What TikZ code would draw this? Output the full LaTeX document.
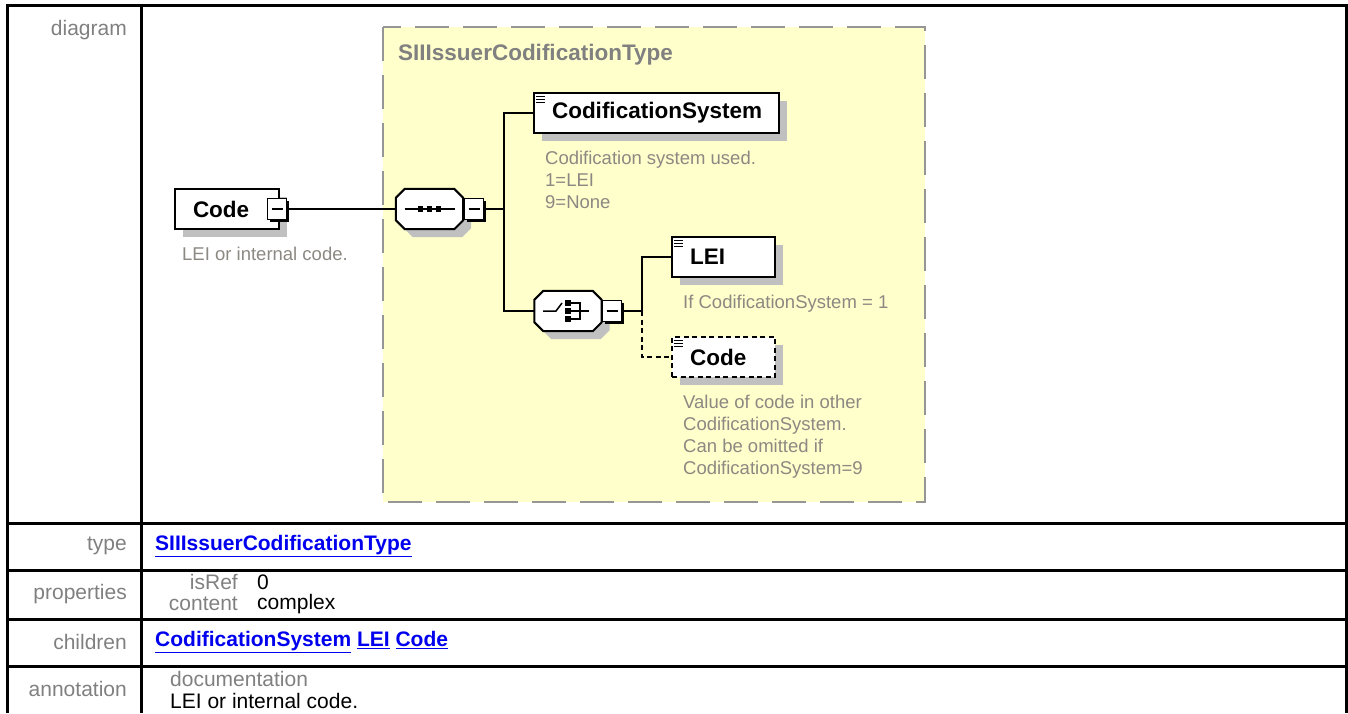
\documentclass[tikz,border=0pt]{standalone}
\usepackage{fontspec}
\setmainfont{Liberation Sans}
\usetikzlibrary{shadows}
\definecolor{labgray}{RGB}{128,128,128}
\definecolor{docgray}{RGB}{140,136,130}
\definecolor{boxyellow}{RGB}{255,255,204}
\definecolor{dashgray}{RGB}{150,150,150}
\definecolor{shadowgray}{RGB}{192,192,192}
\definecolor{linkblue}{RGB}{0,0,238}
\newcommand\docicon[1]{\foreach \k in {0,1,2}{\draw[line width=1pt] ([shift={(3,4.5+3*\k)}]#1.north west) -- ++(9,0);}}
% octagon round a compositor node, #2 = offset (shadow)
\newcommand\octpath[2]{([shift={(9+#2,#2)}]#1.north west) -- ([shift={(-9+#2,#2)}]#1.north east) -- ([shift={(#2,9+#2)}]#1.north east) -- ([shift={(#2,-9+#2)}]#1.south east) -- ([shift={(-9+#2,#2)}]#1.south east) -- ([shift={(9+#2,#2)}]#1.south west) -- ([shift={(#2,-9+#2)}]#1.south west) -- ([shift={(#2,9+#2)}]#1.north west) -- cycle}
\begin{document}
\begin{tikzpicture}[x=1pt,y=-1pt,
  tbl/.style={line width=3pt},
  lab/.style={anchor=east,inner sep=0pt,text=labgray,font=\fontsize{21}{23}\selectfont},
  val/.style={anchor=west,inner sep=0pt,font=\fontsize{21}{23}\selectfont},
  lnk/.style={anchor=west,inner sep=0pt,text=linkblue,font=\fontsize{21}{23}\selectfont\bfseries},
  conn/.style={line width=2pt},
  shade/.style={drop shadow={shadow xshift=8pt,shadow yshift=-8pt,fill=shadowgray,opacity=1}},
  elem/.style={draw,line width=2pt,fill=white,shade,minimum height=40pt,inner ysep=0pt,inner xsep=18pt,align=left,font=\fontsize{22.5}{24}\selectfont\bfseries},
  compositor/.style={minimum width=67pt,minimum height=40pt,inner sep=0pt},
  minus/.style={draw,line width=1.5pt,fill=white,minimum width=19pt,minimum height=21pt,inner sep=0pt,
    drop shadow={shadow xshift=2.5pt,shadow yshift=-2.5pt,fill=black,opacity=1},
    path picture={\draw[line width=1.5pt] ([xshift=-5.5pt]path picture bounding box.center) -- ([xshift=5.5pt]path picture bounding box.center);}},
  doc/.style={anchor=north west,align=left,inner sep=0pt,text=docgray,font=\fontsize{18.5}{22}\selectfont}]
\useasboundingbox (0,0) rectangle (1348,713);
% table
\draw[tbl] (7,713) -- (7,5) -- (1346,5) -- (1346,713) (141,5) -- (141,713);
\foreach \y in {523,570,619,666}{\draw[tbl] (7,\y) -- (1346,\y);}
\foreach \y/\lab in {30/diagram,546/type,594/properties,642/children,689/annotation}{\node[lab] at (127,\y) {\lab};}
\node[lnk] (typelink) at (155,546) {\underline{SIIIssuerCodificationType}};
\node[lab] (isref) at (238,582) {isRef};
\node[lab] (content) at (238,604) {content};
\node[val] (isrefval) at (257,582) {0};
\node[val] (contentval) at (257,604) {complex};
\node[lnk] (childlinks) at (155,642) {\underline{CodificationSystem} \underline{LEI} \underline{Code}};
\node[val,text=labgray] (doclab) at (170,679) {documentation};
\node[val] (doctext) at (170,701) {LEI or internal code.};
% complex type box
\draw[dashgray,fill=boxyellow,line width=2.5pt,dash pattern=on 34pt off 14pt] (383,27) rectangle (925,502);
\node[anchor=west,inner sep=0pt,text=labgray,font=\fontsize{22.5}{24}\selectfont\bfseries] (typename) at (398,55) {SIIIssuerCodificationType};
% nodes
\node[elem,minimum width=102pt,text width=68pt] (code) at (227,209) {Code};
\node[minus] (codeminus) at (277,209) {};
\node[doc] (codedoc) at (182,247) {LEI or internal code.};
\node[elem,minimum width=245pt,text width=209pt] (cs) at (656.5,113) {CodificationSystem};
\docicon{cs}
\node[doc] (csdoc) at (545,151) {Codification system used.\\1=LEI\\9=None};
\node[elem,minimum width=103pt,text width=67pt] (lei) at (723.5,257) {LEI};
\docicon{lei}
\node[doc] (leidoc) at (683,295) {If CodificationSystem = 1};
\node[elem,dash pattern=on 5pt off 3.5pt,minimum width=103pt,text width=67pt] (code2) at (723.5,357) {Code};
\docicon{code2}
\node[doc] (code2doc) at (683,395) {Value of code in other\\CodificationSystem.\\Can be omitted if\\CodificationSystem=9};
% octagons and their icons
\node[compositor] (seq) at (429.5,209) {};
\node[compositor] (choice) at (568,311) {};
\foreach \n in {seq,choice}{
  \fill[shadowgray] \octpath{\n}{8};
  \draw[line width=2pt,fill=white] \octpath{\n}{0};
}
\node[minus] (seqminus) at (474,209) {};
\node[minus] (choiceminus) at (612,311) {};
\begin{scope}[shift={(seq.center)}]
\draw[line width=1.5pt] (-25,0) -- (25,0);
\foreach \x in {-9,0,9}{\fill (\x-2.8,-2.8) rectangle (\x+2.8,2.8);}
\end{scope}
\begin{scope}[shift={(choice.center)},line width=1.5pt]
\draw (-25,0) -- (-12,0) -- (-6,-8);
\foreach \y in {-8,0,8}{\fill (-2.8,\y-2.8) rectangle (2.8,\y+2.8);}
\draw (3,-8) -- (12,-8) -- (12,8) -- (3,8) (3,0) -- (21,0);
\end{scope}
% connectors
\coordinate (bus1) at (504,209);
\coordinate (bus2) at (642,311);
\draw[conn] (codeminus.east) -- (seq.west);
\draw[conn] (seqminus.east) -- (bus1);
\draw[conn] (cs.west) -| (bus1) |- (choice.west);
\draw[conn] (choiceminus.east) -- (bus2) |- (lei.west);
\draw[conn,dash pattern=on 5pt off 3.5pt] (bus2) |- (code2.west);
\end{tikzpicture}
\end{document}
